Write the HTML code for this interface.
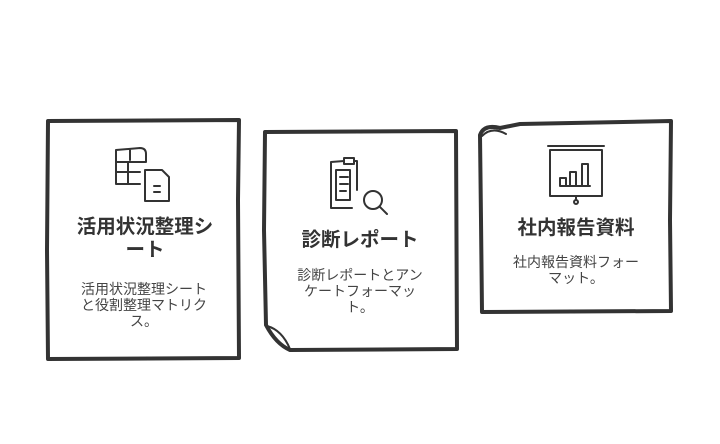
<!DOCTYPE html>
<html><head><meta charset="utf-8"><style>
body{margin:0;width:720px;height:444px;background:#fff;overflow:hidden;position:relative;font-family:"Liberation Sans","Noto Sans CJK JP",sans-serif;color:#333}
.t{position:absolute;text-align:center;font-weight:bold;font-size:19.5px;line-height:23px}
.d{position:absolute;text-align:center;font-size:14px;line-height:16px;color:#444}
</style></head><body>
<svg width="720" height="444" style="position:absolute;left:0;top:0" fill="none" stroke="#333" stroke-linecap="round" stroke-linejoin="round">
<g stroke-width="4">
<path d="M48 121 L239 120 L238 200 L239 358 L48 359 L47 250 Z"/>
<path d="M265 132 L456 131 L457 349 L290 350 Q276 344 266 325 L264 230 Z"/>
<path d="M480 135 Q484 124 500 128 L520 124 L671 121 L670 220 L671 311 L482 312 L481 220 Z"/>
<path d="M482 136 Q492 126 506 134" stroke-width="2"/>
<path d="M267 326 Q282 330 290 349" stroke-width="2"/>
</g>
<g stroke-width="2">
<path d="M116 150 L140 148 Q146 148 146 154 L146 162 M116 150 L116 184 L140 184 M116 162 L146 162 M116 172 L140 172 M128 162 L128 184 M130 150 L130 160"/>
<path d="M145 170 L162 170 L169 177 L169 201 L145 201 Z M154 186 L160 186 M154 192 L160 192"/>
<path d="M331 162 L344 161 M354 161 L357 161 L357 190 M331 162 L331 208 L352 208"/>
<path d="M344 158 L354 158 L354 164 L344 164 Z"/>
<path d="M336 170 L350 170 L350 200 L336 200 Z M340 177 L348 177 M340 184 L348 184 M340 191 L346 191"/>
<circle cx="373" cy="200" r="9"/>
<path d="M380 207 L387 214"/>
<path d="M548 146 L604 146 M550 150 L602 150 L602 196 L550 196 Z M576 196 L576 200"/>
<circle cx="576" cy="202" r="2"/>
<path d="M560 186 L560 178 L566 178 L566 186 M570 186 L570 172 L576 172 L576 186 M582 186 L582 164 L588 164 L588 186 M560 186 L590 186"/>
</g>
</svg>
<div class="t" style="left:60px;width:170px;top:216px">活用状況整理シ<br>ート</div>
<div class="d" style="left:64px;width:160px;top:281px">活用状況整理シート<br>と役割整理マトリク<br>ス。</div>
<div class="t" style="left:270px;width:180px;top:229px">診断レポート</div>
<div class="d" style="left:280px;width:160px;top:267px">診断レポートとアン<br>ケートフォーマッ<br>ト。</div>
<div class="t" style="left:486px;width:180px;top:217px">社内報告資料</div>
<div class="d" style="left:496px;width:160px;top:254px">社内報告資料フォー<br>マット。</div>
</body></html>
